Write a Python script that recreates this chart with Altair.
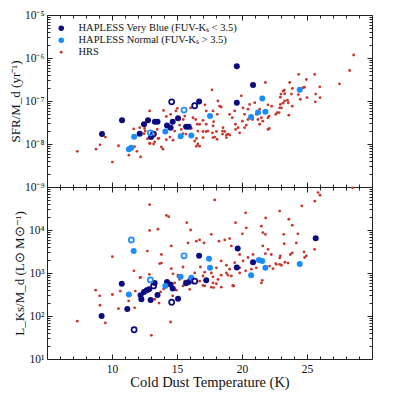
import altair as alt
import pandas as pd
import numpy as np

SERIES = ["HAPLESS Very Blue (FUV-Kₛ < 3.5)", "HAPLESS Normal (FUV-Kₛ > 3.5)", "HRS"]
COLORS = ["#0c0c80", "#1a8cff", "#c8372d"]
BIG, SMALL = 36, 8
FONT = "Liberation Serif"

# ---- top panel: (cold dust T [K], log10 SFR/Md [yr^-1]) ----
hrs_top = [
    (7.33, -8.17), (8.77, -8.12), (9.08, -8.02), (9.49, -7.84), (10.03, -8.42), (10.5, -8.04),
    (11.3, -8.26), (11.67, -7.65), (11.8, -7.84), (12.2, -8.3), (11.74, -8.06), (12.46, -7.76),
    (12.51, -7.64), (12.9, -7.23), (12.72, -7.88), (12.92, -7.99), (13.28, -7.95), (13.33, -7.77),
    (13.48, -7.66), (13.6, -7.87), (13.8, -8.07), (13.97, -7.22), (14.18, -7.36), (14.18, -7.90),
    (14.46, -7.84), (14.51, -7.31), (14.82, -7.70), (14.92, -7.23), (15.03, -7.17), (15.2, -7.56),
    (15.33, -7.66), (15.48, -7.43), (15.6, -7.35), (15.7, -7.77), (16.1, -7.64), (16.23, -7.39),
    (16.36, -7.93), (16.49, -8.05), (16.05, -7.16), (16.56, -7.54), (11.92, -8.17), (12.9, -7.98),
    (13.2, -8.0), (13.92, -8.12), (13.54, -7.87), (12.13, -7.62), (12.56, -7.70), (14.7, -7.91),
    (15.46, -7.76), (16.5, -7.87), (16.6, -8.0), (17.0, -7.71), (17.25, -7.71), (17.77, -7.85),
    (18.08, -7.89), (18.5, -7.70), (18.8, -7.85), (19.05, -7.79), (17.69, -6.74), (16.44, -7.43),
    (16.74, -7.54), (16.6, -7.70), (17.15, -7.09), (17.25, -7.23), (17.77, -7.23), (18.1, -7.31),
    (17.0, -7.45), (17.25, -7.54), (17.82, -7.48), (18.15, -7.0), (18.28, -7.12), (18.4, -7.14),
    (17.77, -7.58), (18.03, -7.71), (18.54, -7.62), (18.67, -7.71), (18.92, -7.77), (19.05, -7.31),
    (19.25, -7.39), (19.44, -7.23), (19.51, -7.66), (19.82, -7.74), (19.95, -6.88), (20.08, -7.16),
    (20.2, -7.31), (20.33, -7.56), (20.46, -7.19), (20.59, -7.08), (20.8, -7.43), (20.98, -7.04),
    (21.1, -7.31), (21.36, -7.19), (21.49, -7.39), (21.8, -6.57), (22.0, -7.09), (22.1, -7.64),
    (22.28, -7.12), (22.85, -7.27), (22.95, -7.08), (23.0, -6.84), (23.15, -6.77), (23.28, -7.0),
    (23.56, -7.04), (23.67, -6.57), (23.8, -6.84), (23.87, -7.12), (23.6, -7.33), (24.36, -6.38),
    (24.49, -6.96), (24.95, -6.50), (25.0, -6.92), (25.59, -6.38), (25.67, -6.84), (25.64, -7.02),
    (25.98, -6.67), (26.0, -6.92), (27.5, -6.60), (28.28, -6.29), (28.59, -5.93), (17.38, -7.70),
    (17.72, -7.74), (17.9, -7.84), (18.5, -7.77), (18.8, -7.79), (19.5, -7.54), (19.7, -7.62),
    (20.03, -7.47), (20.2, -7.62), (20.46, -7.43), (21.23, -7.43), (21.36, -7.54), (21.6, -7.47),
    (22.0, -7.66), (22.6, -7.31), (22.9, -7.16), (22.0, -7.39), (16.74, -8.05), (17.0, -7.85),
    (24.8, -6.68), (24.7, -6.69), (24.33, -6.85), (23.87, -6.71), (23.5, -6.98), (23.25, -6.75),
    (23.28, -6.83), (22.95, -6.91), (23.15, -7.05), (23.03, -7.16), (22.7, -7.27), (22.08, -7.35),
]
vb_top = [
    (9.23, -7.77), (10.77, -7.45), (12.13, -7.76), (12.46, -7.54), (12.77, -7.45), (13.3, -7.48),
    (13.5, -7.48), (13.0, -7.84), (14.23, -7.57), (14.51, -7.62), (14.67, -7.48), (15.08, -7.40),
    (15.7, -7.60), (15.9, -7.60), (16.7, -7.01), (19.6, -6.19), (20.85, -6.63), (19.6, -7.04),
]
vb_top_open = [(13.18, -7.77), (14.59, -7.02), (16.36, -7.11)]
nm_top = [
    (11.3, -8.12), (11.48, -8.09), (11.7, -7.83), (14.1, -7.71), (15.28, -7.82), (16.1, -7.80),
    (17.54, -7.35), (20.7, -7.37), (21.23, -7.27), (21.8, -7.25), (21.56, -6.94), (24.44, -6.74),
]
nm_top_open = [(12.95, -7.74), (15.54, -7.21)]

# ---- bottom panel: (cold dust T [K], log10 L_Ks/Md [Lsun/Msun]) ----
hrs_bot = [
    (7.33, 1.88), (8.74, 2.60), (9.05, 2.47), (9.08, 2.25), (9.49, 1.84), (10.03, 3.38), (10.03, 2.50),
    (10.5, 2.17), (11.28, 2.35), (11.69, 3.05), (11.79, 2.58), (11.74, 2.19), (12.2, 2.90), (12.46, 2.58),
    (12.72, 3.51), (12.9, 4.59), (12.9, 3.99), (13.03, 1.55), (13.28, 2.39), (13.54, 4.02), (13.62, 2.30),
    (13.8, 3.43), (13.8, 3.23), (13.97, 2.63), (14.18, 4.34), (14.36, 4.31), (14.51, 1.86), (14.56, 3.10),
    (14.56, 3.63), (14.67, 2.47), (14.82, 2.77), (15.08, 2.95), (15.75, 4.17), (16.05, 4.0), (15.85, 3.70),
    (16.49, 3.74), (15.2, 2.85), (15.6, 2.81), (15.98, 2.88), (16.23, 2.77), (16.36, 3.0), (15.46, 2.70),
    (15.98, 2.62), (14.82, 2.62), (14.3, 2.74), (13.74, 2.56), (17.9, 4.70), (20.28, 4.40), (21.82, 4.28),
    (22.9, 4.44), (23.6, 4.25), (23.87, 4.11), (24.6, 4.56), (25.6, 4.67), (25.85, 4.87), (26.0, 4.81),
    (28.5, 4.98), (19.51, 4.17), (20.33, 4.05), (21.49, 4.09), (21.6, 3.94), (20.03, 3.91), (19.18, 3.63),
    (19.05, 3.80), (16.74, 3.77), (17.64, 3.90), (18.23, 3.74), (18.67, 3.77), (23.21, 3.90), (24.3, 3.91),
    (24.18, 3.70), (25.59, 3.55), (24.95, 3.40), (24.82, 3.36), (23.87, 3.47), (22.95, 3.40), (22.25, 3.43),
    (22.0, 3.55), (21.6, 3.63), (20.85, 3.43), (20.46, 3.36), (20.08, 3.28), (19.82, 3.43), (19.44, 3.24),
    (19.05, 3.09), (18.8, 3.18), (18.4, 3.28), (18.03, 3.12), (17.64, 3.0), (17.0, 2.93), (16.74, 2.81),
    (17.13, 2.70), (17.77, 2.77), (18.15, 2.85), (18.4, 2.95), (18.8, 3.0), (19.3, 2.70), (19.18, 2.93),
    (19.82, 3.0), (20.28, 3.05), (20.72, 3.09), (21.1, 3.12), (21.49, 2.77), (21.56, 2.83), (22.13, 3.16),
    (22.64, 3.20), (23.03, 3.18), (23.54, 3.23), (23.72, 3.43), (19.64, 3.16), (19.36, 2.70), (19.82, 3.12),
    (17.08, 3.70), (13.67, 3.22), (12.15, 2.89), (12.87, 2.97), (10.64, 2.58), (23.25, 3.68), (24.77, 3.49),
    (22.9, 3.35), (22.38, 3.10), (22.6, 3.22), (22.9, 3.20), (23.3, 3.25), (21.8, 3.90), (21.8, 3.45),
    (21.8, 3.15), (14.69, 2.98), (15.08, 2.91), (15.46, 3.14), (16.8, 3.14), (17.77, 2.91), (17.13, 3.02),
    (18.03, 2.75), (18.4, 2.67), (17.64, 2.67), (18.92, 2.95), (19.3, 2.71), (14.95, 2.60), (17.82, 2.66),
    (17.0, 2.71),
]
vb_bot = [
    (9.2, 2.0), (10.75, 2.75), (11.18, 2.16), (12.2, 2.48), (12.26, 2.39), (12.46, 2.56), (12.67, 2.60),
    (12.85, 2.62), (12.97, 2.37), (13.28, 2.77), (13.5, 2.49), (14.23, 2.79), (14.5, 2.73), (14.67, 2.64),
    (15.08, 2.40), (15.7, 2.76), (15.9, 2.79), (16.7, 3.40), (17.25, 2.83), (19.67, 3.57), (19.6, 3.13),
    (20.85, 3.25), (25.67, 3.81),
]
vb_bot_open = [(11.7, 1.68), (13.2, 2.70), (14.59, 2.32), (16.36, 2.81)]
nm_bot = [
    (11.3, 2.50), (11.67, 3.51), (14.1, 2.70), (15.28, 2.91), (16.1, 2.89), (17.46, 3.33), (17.54, 3.12),
    (20.7, 2.95), (21.3, 3.30), (21.56, 3.28), (21.8, 3.12), (24.44, 3.21),
]
nm_bot_open = [(11.49, 3.77), (12.95, 2.84), (15.54, 3.40)]

X_MAJOR = [10, 15, 20, 25]
X_MINOR = [t for t in range(6, 30) if t % 5 != 0]
TOP_MAJOR = [1e-9, 1e-8, 1e-7, 1e-6, 1e-5]
BOT_MAJOR = [1e1, 1e2, 1e3, 1e4, 1e5]


def minor_log(lo, hi):
    return [k * 10.0 ** e for e in range(lo, hi) for k in range(2, 10)]


def frame(pairs, series):
    d = pd.DataFrame(pairs, columns=["T", "logv"])
    d["v"] = np.power(10.0, d["logv"])
    d["series"] = series
    return d


def panel(hrs, vb, vbo, nm, nmo, ydom, ymaj, ymin, labexpr, ytitle, bottom, legend):
    d_hrs = frame(hrs, SERIES[2])
    d_fill = pd.concat([frame(vb, SERIES[0]), frame(nm, SERIES[1])])
    d_open = pd.concat([frame(vbo, SERIES[0]), frame(nmo, SERIES[1])])
    xs = alt.Scale(domain=[5, 30], nice=False, zero=False)
    ys = alt.Scale(type="log", domain=ydom, nice=False)
    common = dict(domain=False, grid=False, tickColor="#222", labelFont=FONT,
                  labelFontSize=11.5, labelColor="#111", titleFont=FONT, titleFontSize=13,
                  titleFontWeight="normal", titleColor="#111")
    quiet = dict(labels=False, title=None, minExtent=0, maxExtent=0, labelPadding=0)
    legstyle = dict(title=None, orient="none", legendX=9, labelFont=FONT, labelFontSize=10.5,
                    labelColor="#111", symbolType="circle", symbolStrokeWidth=0, rowPadding=1,
                    padding=0, labelOffset=12, labelLimit=400)
    if legend:
        leg_big = alt.Legend(legendY=8, symbolSize=30, **legstyle)
        leg_small = alt.Legend(legendY=32, symbolSize=SMALL, **legstyle)
    else:
        leg_big = None
        leg_small = None

    xa_main = alt.Axis(orient="bottom", values=X_MAJOR, offset=-5, tickSize=5, labels=bottom,
                       labelPadding=4, title="Cold Dust Temperature (K)" if bottom else None,
                       titlePadding=1, titleFontSize=14.5, minExtent=0,
                       **{k: v for k, v in common.items() if k != "titleFontSize"})
    ya_main = alt.Axis(orient="left", values=ymaj, offset=-5, tickSize=5, labelExpr=labexpr,
                       labelPadding=3, title=ytitle, titlePadding=2, labelOverlap=False,
                       minExtent=0, **common)
    l1 = alt.Chart(d_hrs).mark_circle(opacity=1, size=SMALL).encode(
        x=alt.X("T:Q", scale=xs, axis=xa_main),
        y=alt.Y("v:Q", scale=ys, axis=ya_main),
        fill=alt.Fill("series:N", scale=alt.Scale(domain=SERIES[2:], range=COLORS[2:]),
                      legend=leg_small))
    l2 = alt.Chart(d_fill).mark_circle(opacity=1, size=BIG).encode(
        x=alt.X("T:Q", scale=xs, axis=alt.Axis(orient="bottom", values=X_MINOR, offset=-3,
                                                 tickSize=3, **quiet, **common)),
        y=alt.Y("v:Q", scale=ys, axis=alt.Axis(orient="left", values=ymin, offset=-3, tickSize=3,
                                                 **quiet, **common)),
        color=alt.Color("series:N", scale=alt.Scale(domain=SERIES[:2], range=COLORS[:2]),
                        legend=leg_big))
    l3 = alt.Chart(d_open).mark_point(filled=False, size=26, strokeWidth=1.7, opacity=1).encode(
        x=alt.X("T:Q", scale=xs, axis=alt.Axis(orient="top", values=X_MAJOR, offset=-5,
                                                 tickSize=5, **quiet, **common)),
        y=alt.Y("v:Q", scale=ys, axis=alt.Axis(orient="right", values=ymaj, offset=-5, tickSize=5,
                                                 **quiet, **common)),
        stroke=alt.Stroke("series:N", scale=alt.Scale(domain=SERIES[:2], range=COLORS[:2]),
                          legend=None))
    l4 = alt.Chart(d_hrs).mark_point(opacity=0).encode(
        x=alt.X("T:Q", scale=xs, axis=alt.Axis(orient="top", values=X_MINOR, offset=-3,
                                                 tickSize=3, **quiet, **common)),
        y=alt.Y("v:Q", scale=ys, axis=alt.Axis(orient="right", values=ymin, offset=-3, tickSize=3,
                                                 **quiet, **common)))
    return alt.layer(l1, l2, l3, l4).resolve_axis(x="independent", y="independent").properties(
        width=325, height=172)


top_lab = "['10⁻⁹','10⁻⁸','10⁻⁷','10⁻⁶','10⁻⁵'][round(log(datum.value)/LN10)+9]"
bot_lab = "['10¹','10²','10³','10⁴',''][round(log(datum.value)/LN10)-1]"

top = panel(hrs_top, vb_top, vb_top_open, nm_top, nm_top_open, [1e-9, 1e-5], TOP_MAJOR,
            minor_log(-9, -5), top_lab, "SFR/M_d (yr⁻¹)", False, True)
bot = panel(hrs_bot, vb_bot, vb_bot_open, nm_bot, nm_bot_open, [1e1, 1e5], BOT_MAJOR,
            minor_log(1, 5), bot_lab, "L_Ks/M_d (L⊙ M⊙⁻¹)", True, False)

chart = alt.vconcat(top, bot, spacing=0, bounds="flush").resolve_scale(
    x="independent", y="independent", color="independent", fill="independent",
    stroke="independent").resolve_legend(color="independent", fill="independent").properties(
    padding={"left": 0, "top": 0, "right": 5, "bottom": 0}
).configure_view(stroke="#222", strokeWidth=1)

chart.save("out.html", embed_options={"renderer": "svg", "actions": False})
